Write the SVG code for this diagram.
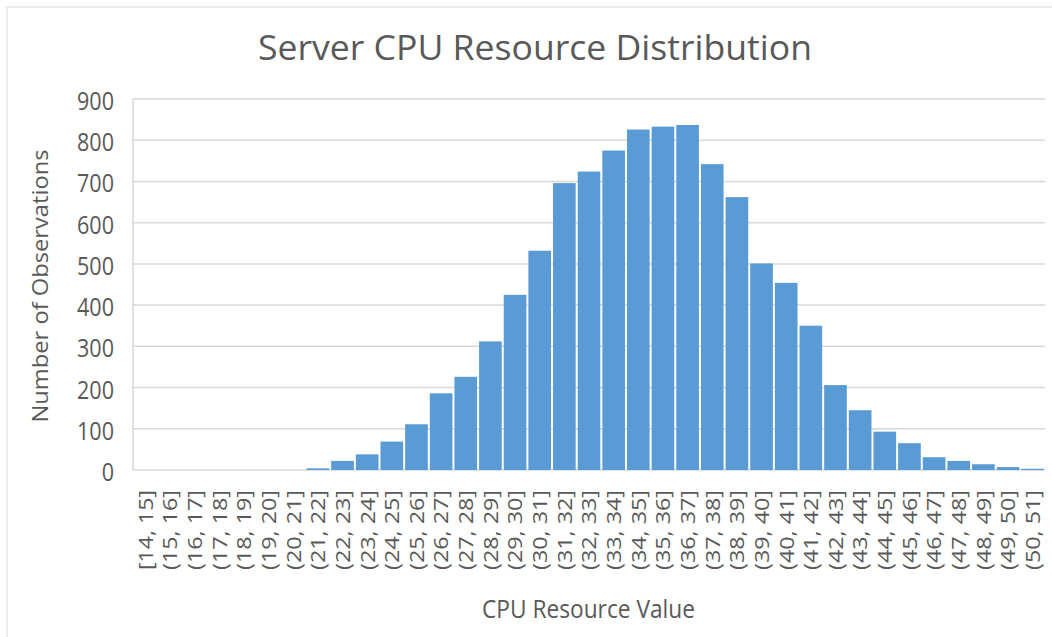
<svg xmlns="http://www.w3.org/2000/svg" width="1052" height="637" viewBox="0 0 1052 637">
  <style>
    text { font-family: "Open Sans", "Liberation Sans", sans-serif; fill: #595959; }
    .title { font-size: 35px; }
    .ytick { font-size: 25px; text-anchor: end; }
    .xtick { font-size: 19.5px; text-anchor: end; }
    .axis-title { font-size: 25px; }
    .ytitle { font-size: 21px; text-anchor: middle; }
    .grid line { stroke: #d9d9d9; stroke-width: 1.5; }
    .bars rect { fill: #5b9bd5; }
  </style>

  <!-- chart area -->
  <rect x="0" y="0" width="1052" height="637" fill="#ffffff"/>
  <rect x="7" y="7" width="1070" height="660" fill="none" stroke="#d9d9d9" stroke-width="1"/>

  <g id="title">
    <text class="title" x="258" y="60" textLength="554" lengthAdjust="spacingAndGlyphs">Server CPU Resource Distribution</text>
  </g>

  <!-- horizontal gridlines, 100 per step -->
  <g id="gridlines" class="grid">
    <line x1="133" y1="99" x2="133" y2="470"/>
    <line x1="133" y1="99" x2="1045" y2="99"/>
    <line x1="133" y1="140.22" x2="1045" y2="140.22"/>
    <line x1="133" y1="181.44" x2="1045" y2="181.44"/>
    <line x1="133" y1="222.67" x2="1045" y2="222.67"/>
    <line x1="133" y1="263.89" x2="1045" y2="263.89"/>
    <line x1="133" y1="305.11" x2="1045" y2="305.11"/>
    <line x1="133" y1="346.33" x2="1045" y2="346.33"/>
    <line x1="133" y1="387.56" x2="1045" y2="387.56"/>
    <line x1="133" y1="428.78" x2="1045" y2="428.78"/>
    <line x1="133" y1="470" x2="1045" y2="470"/>
  </g>

  <g id="y-axis-labels">
    <text class="ytick" x="114" y="110" textLength="37" lengthAdjust="spacingAndGlyphs">900</text>
    <text class="ytick" x="114" y="151.2" textLength="37" lengthAdjust="spacingAndGlyphs">800</text>
    <text class="ytick" x="114" y="192.4" textLength="37" lengthAdjust="spacingAndGlyphs">700</text>
    <text class="ytick" x="114" y="233.7" textLength="37" lengthAdjust="spacingAndGlyphs">600</text>
    <text class="ytick" x="114" y="274.9" textLength="37" lengthAdjust="spacingAndGlyphs">500</text>
    <text class="ytick" x="114" y="316.1" textLength="37" lengthAdjust="spacingAndGlyphs">400</text>
    <text class="ytick" x="114" y="357.3" textLength="37" lengthAdjust="spacingAndGlyphs">300</text>
    <text class="ytick" x="114" y="398.6" textLength="37" lengthAdjust="spacingAndGlyphs">200</text>
    <text class="ytick" x="114" y="439.8" textLength="37" lengthAdjust="spacingAndGlyphs">100</text>
    <text class="ytick" x="114" y="481" textLength="12.3" lengthAdjust="spacingAndGlyphs">0</text>
  </g>

  <!-- histogram bars: 37 bins of width 24.649 from x=133, 0.41222 px per observation -->
  <g id="bars" class="bars">
    <rect x="306.54" y="468.35" width="22.65" height="1.65"/>
    <rect x="331.19" y="460.93" width="22.65" height="9.07"/>
    <rect x="355.84" y="454.34" width="22.65" height="15.66"/>
    <rect x="380.49" y="441.56" width="22.65" height="28.44"/>
    <rect x="405.14" y="424.24" width="22.65" height="45.76"/>
    <rect x="429.79" y="393.33" width="22.65" height="76.67"/>
    <rect x="454.44" y="376.84" width="22.65" height="93.16"/>
    <rect x="479.09" y="341.39" width="22.65" height="128.61"/>
    <rect x="503.74" y="294.81" width="22.65" height="175.19"/>
    <rect x="528.38" y="250.70" width="22.65" height="219.30"/>
    <rect x="553.03" y="183.09" width="22.65" height="286.91"/>
    <rect x="577.68" y="171.55" width="22.65" height="298.45"/>
    <rect x="602.33" y="150.53" width="22.65" height="319.47"/>
    <rect x="626.98" y="129.51" width="22.65" height="340.49"/>
    <rect x="651.63" y="126.62" width="22.65" height="343.38"/>
    <rect x="676.28" y="124.97" width="22.65" height="345.03"/>
    <rect x="700.93" y="164.13" width="22.65" height="305.87"/>
    <rect x="725.58" y="197.11" width="22.65" height="272.89"/>
    <rect x="750.23" y="263.48" width="22.65" height="206.52"/>
    <rect x="774.87" y="282.85" width="22.65" height="187.15"/>
    <rect x="799.52" y="325.72" width="22.65" height="144.28"/>
    <rect x="824.17" y="385.08" width="22.65" height="84.92"/>
    <rect x="848.82" y="410.23" width="22.65" height="59.77"/>
    <rect x="873.47" y="431.66" width="22.65" height="38.34"/>
    <rect x="898.12" y="443.21" width="22.65" height="26.79"/>
    <rect x="922.77" y="457.22" width="22.65" height="12.78"/>
    <rect x="947.42" y="460.93" width="22.65" height="9.07"/>
    <rect x="972.07" y="464.23" width="22.65" height="5.77"/>
    <rect x="996.72" y="467.11" width="22.65" height="2.89"/>
    <rect x="1021.36" y="468.76" width="22.65" height="1.24"/>
  </g>

  <!-- bin labels, rotated to read upward -->
  <g id="x-axis-labels">
    <text class="xtick" transform="translate(152.6,490) rotate(-90)" textLength="80" lengthAdjust="spacingAndGlyphs">[14, 15]</text>
    <text class="xtick" transform="translate(177.3,490) rotate(-90)" textLength="80" lengthAdjust="spacingAndGlyphs">(15, 16]</text>
    <text class="xtick" transform="translate(201.9,490) rotate(-90)" textLength="80" lengthAdjust="spacingAndGlyphs">(16, 17]</text>
    <text class="xtick" transform="translate(226.6,490) rotate(-90)" textLength="80" lengthAdjust="spacingAndGlyphs">(17, 18]</text>
    <text class="xtick" transform="translate(251.2,490) rotate(-90)" textLength="80" lengthAdjust="spacingAndGlyphs">(18, 19]</text>
    <text class="xtick" transform="translate(275.9,490) rotate(-90)" textLength="80" lengthAdjust="spacingAndGlyphs">(19, 20]</text>
    <text class="xtick" transform="translate(300.5,490) rotate(-90)" textLength="80" lengthAdjust="spacingAndGlyphs">(20, 21]</text>
    <text class="xtick" transform="translate(325.2,490) rotate(-90)" textLength="80" lengthAdjust="spacingAndGlyphs">(21, 22]</text>
    <text class="xtick" transform="translate(349.8,490) rotate(-90)" textLength="80" lengthAdjust="spacingAndGlyphs">(22, 23]</text>
    <text class="xtick" transform="translate(374.5,490) rotate(-90)" textLength="80" lengthAdjust="spacingAndGlyphs">(23, 24]</text>
    <text class="xtick" transform="translate(399.1,490) rotate(-90)" textLength="80" lengthAdjust="spacingAndGlyphs">(24, 25]</text>
    <text class="xtick" transform="translate(423.8,490) rotate(-90)" textLength="80" lengthAdjust="spacingAndGlyphs">(25, 26]</text>
    <text class="xtick" transform="translate(448.4,490) rotate(-90)" textLength="80" lengthAdjust="spacingAndGlyphs">(26, 27]</text>
    <text class="xtick" transform="translate(473.1,490) rotate(-90)" textLength="80" lengthAdjust="spacingAndGlyphs">(27, 28]</text>
    <text class="xtick" transform="translate(497.7,490) rotate(-90)" textLength="80" lengthAdjust="spacingAndGlyphs">(28, 29]</text>
    <text class="xtick" transform="translate(522.4,490) rotate(-90)" textLength="80" lengthAdjust="spacingAndGlyphs">(29, 30]</text>
    <text class="xtick" transform="translate(547.0,490) rotate(-90)" textLength="80" lengthAdjust="spacingAndGlyphs">(30, 31]</text>
    <text class="xtick" transform="translate(571.7,490) rotate(-90)" textLength="80" lengthAdjust="spacingAndGlyphs">(31, 32]</text>
    <text class="xtick" transform="translate(596.3,490) rotate(-90)" textLength="80" lengthAdjust="spacingAndGlyphs">(32, 33]</text>
    <text class="xtick" transform="translate(621.0,490) rotate(-90)" textLength="80" lengthAdjust="spacingAndGlyphs">(33, 34]</text>
    <text class="xtick" transform="translate(645.6,490) rotate(-90)" textLength="80" lengthAdjust="spacingAndGlyphs">(34, 35]</text>
    <text class="xtick" transform="translate(670.3,490) rotate(-90)" textLength="80" lengthAdjust="spacingAndGlyphs">(35, 36]</text>
    <text class="xtick" transform="translate(694.9,490) rotate(-90)" textLength="80" lengthAdjust="spacingAndGlyphs">(36, 37]</text>
    <text class="xtick" transform="translate(719.6,490) rotate(-90)" textLength="80" lengthAdjust="spacingAndGlyphs">(37, 38]</text>
    <text class="xtick" transform="translate(744.2,490) rotate(-90)" textLength="80" lengthAdjust="spacingAndGlyphs">(38, 39]</text>
    <text class="xtick" transform="translate(768.9,490) rotate(-90)" textLength="80" lengthAdjust="spacingAndGlyphs">(39, 40]</text>
    <text class="xtick" transform="translate(793.5,490) rotate(-90)" textLength="80" lengthAdjust="spacingAndGlyphs">(40, 41]</text>
    <text class="xtick" transform="translate(818.1,490) rotate(-90)" textLength="80" lengthAdjust="spacingAndGlyphs">(41, 42]</text>
    <text class="xtick" transform="translate(842.8,490) rotate(-90)" textLength="80" lengthAdjust="spacingAndGlyphs">(42, 43]</text>
    <text class="xtick" transform="translate(867.4,490) rotate(-90)" textLength="80" lengthAdjust="spacingAndGlyphs">(43, 44]</text>
    <text class="xtick" transform="translate(892.1,490) rotate(-90)" textLength="80" lengthAdjust="spacingAndGlyphs">(44, 45]</text>
    <text class="xtick" transform="translate(916.7,490) rotate(-90)" textLength="80" lengthAdjust="spacingAndGlyphs">(45, 46]</text>
    <text class="xtick" transform="translate(941.4,490) rotate(-90)" textLength="80" lengthAdjust="spacingAndGlyphs">(46, 47]</text>
    <text class="xtick" transform="translate(966.0,490) rotate(-90)" textLength="80" lengthAdjust="spacingAndGlyphs">(47, 48]</text>
    <text class="xtick" transform="translate(990.7,490) rotate(-90)" textLength="80" lengthAdjust="spacingAndGlyphs">(48, 49]</text>
    <text class="xtick" transform="translate(1015.3,490) rotate(-90)" textLength="80" lengthAdjust="spacingAndGlyphs">(49, 50]</text>
    <text class="xtick" transform="translate(1040.0,490) rotate(-90)" textLength="80" lengthAdjust="spacingAndGlyphs">(50, 51]</text>
  </g>

  <g id="x-axis-title">
    <text class="axis-title" x="482" y="618" textLength="213" lengthAdjust="spacingAndGlyphs">CPU Resource Value</text>
  </g>

  <g id="y-axis-title">
    <text class="ytitle" transform="translate(48,286) rotate(-90)" textLength="273" lengthAdjust="spacingAndGlyphs">Number of Observations</text>
  </g>
</svg>
